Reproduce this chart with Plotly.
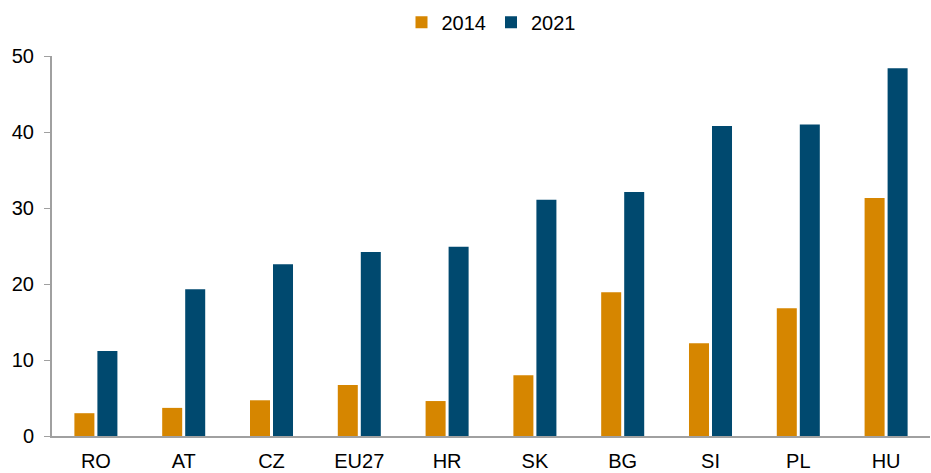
import plotly.graph_objects as go

categories = ["RO", "AT", "CZ", "EU27", "HR", "SK", "BG", "SI", "PL", "HU"]
values_2014 = [3.0, 3.7, 4.7, 6.7, 4.6, 8.0, 18.9, 12.2, 16.8, 31.3]
values_2021 = [11.2, 19.3, 22.6, 24.2, 24.9, 31.1, 32.1, 40.8, 41.0, 48.4]
y_ticks = [0, 10, 20, 30, 40, 50]

fig = go.Figure()
fig.add_trace(go.Bar(x=categories, y=values_2014, name="2014", marker_color="#D68600", marker_line_width=0))
fig.add_trace(go.Bar(x=categories, y=values_2021, name="2021", marker_color="#00496F", marker_line_width=0))

fig.update_layout(
    width=931, height=473,
    margin=dict(l=52, r=1, t=56, b=37, autoexpand=False),
    paper_bgcolor="white", plot_bgcolor="white",
    font=dict(family="Liberation Sans, Arial, sans-serif", size=20, color="#000000"),
    barmode="group", bargap=0.476, bargroupgap=0.13,
    showlegend=True,
    legend=dict(orientation="h", x=0.5, xanchor="center", y=0.953, yanchor="middle",
                yref="container", font=dict(size=20), itemwidth=30, traceorder="normal",
                tracegroupgap=0),
    xaxis=dict(showline=True, linecolor="#A0A0A0", linewidth=2, ticks="", showgrid=False,
               ticklabelstandoff=6, automargin=False),
    yaxis=dict(range=[0, 50], tickvals=y_ticks, showline=True, linecolor="#A0A0A0", linewidth=2,
               ticks="outside", ticklen=6, tickcolor="#A0A0A0", showgrid=False, zeroline=False,
               ticklabelstandoff=6, automargin=False),
)
fig.write_html("out.html", config={"displayModeBar": False},
               post_script="document.body.style.margin='0';document.body.style.overflow='hidden';")
